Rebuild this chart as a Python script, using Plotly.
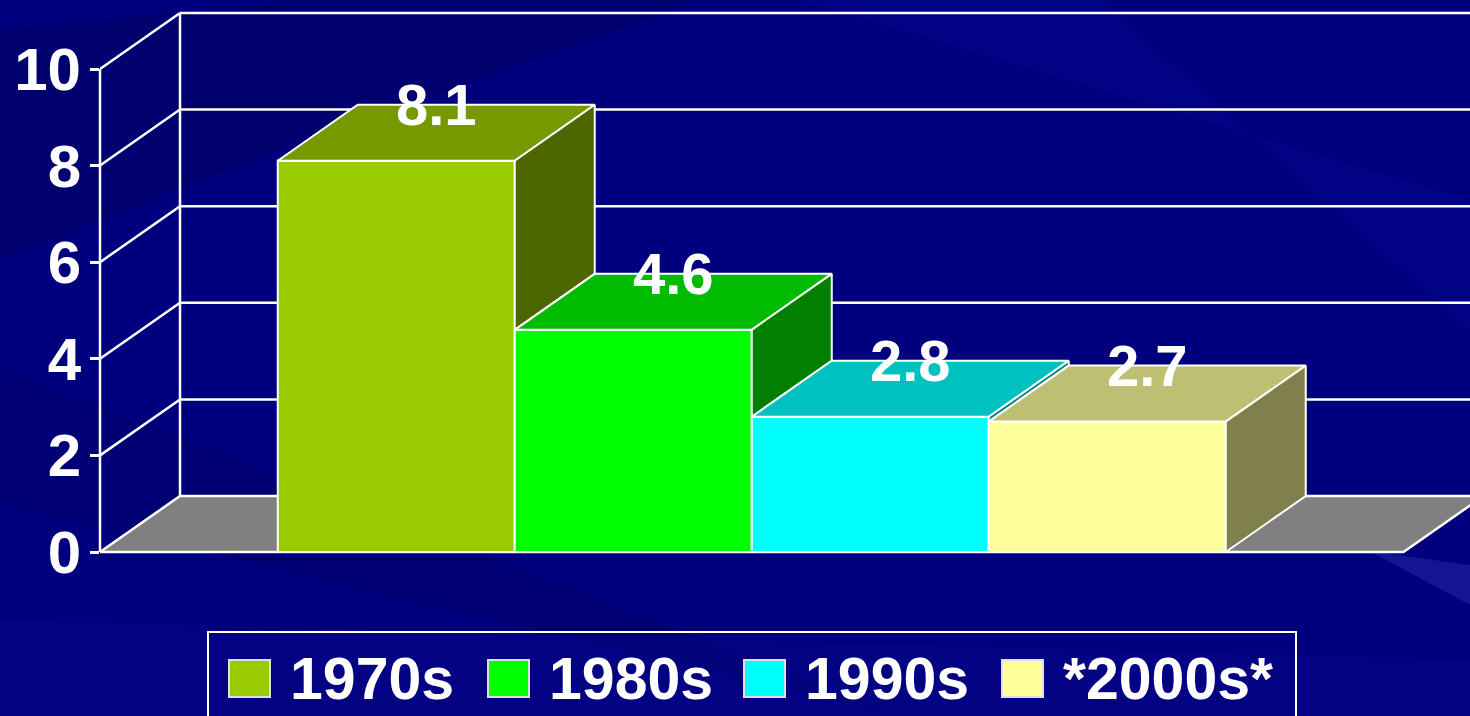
import plotly.graph_objects as go

# ---- data ----
categories = ["1970s", "1980s", "1990s", "*2000s*"]
values = [8.1, 4.6, 2.8, 2.7]
value_labels = ["8.1", "4.6", "2.8", "2.7"]
tick_values = [0, 2, 4, 6, 8, 10]
tick_labels = ["0", "2", "4", "6", "8", "10"]

# ---- styles ----
front_colors = ["#99CC00", "#00FF00", "#00FFFF", "#FFFF99"]
top_colors = ["#779900", "#00BB00", "#00C0C0", "#BFBF73"]
side_colors = ["#4D6600", "#007F00", "#008080", "#80804D"]
BG = "#00007E"
FONT = "Arial, Liberation Sans, sans-serif"

W, H = 1470, 716
L, R, T, B = 100, 0, 0, 156
PW, PH = W - L - R, H - T - B
PX_PER_X = 237.0
PX_PER_Y = 48.3
DX = 80 / PX_PER_X      # depth offset in x units
DY = 56 / PX_PER_Y      # depth offset in y units
X0 = -1.25
X1 = X0 + PW / PX_PER_X
Y0 = -(PH - 552) / PX_PER_Y
Y1 = 552 / PX_PER_Y
FLOOR_R = len(categories) - 0.5 + 0.75
WHITE = "white"
LW = 2.5


def px2x(px):
    return (px - L) / PW


def px2y(py):
    return (H - B - py) / PH


fig = go.Figure()
shapes = []
annotations = []

# background streaks (paper coords)
streaks = [
    ([-100, 300, 700, 200, -100], [40, 0, 0, 180, 300], "rgba(0,0,60,0.22)"),
    ([-100, 600, 900, -100], [330, 600, 716, 480], "rgba(0,0,60,0.12)"),
    ([800, 1470, 1470, 1100], [0, 200, 330, 0], "rgba(20,20,190,0.10)"),
    ([1180, 1470, 1470, 1330], [525, 565, 605, 530], "rgba(90,90,230,0.22)"),
    ([0, 1470, 1470, 0], [620, 660, 716, 716], "rgba(20,20,170,0.12)"),
]
for xs, ys, col in streaks:
    path = "M " + " L ".join(f"{px2x(a)},{px2y(b)}" for a, b in zip(xs, ys)) + " Z"
    shapes.append(dict(type="path", xref="paper", yref="paper", path=path,
                       fillcolor=col, line=dict(width=0), layer="below"))

# floor
floor_path = (f"M {X0},0 L {FLOOR_R},0 L {FLOOR_R + DX},{DY} "
              f"L {X0 + DX},{DY} Z")
shapes.append(dict(type="path", xref="x", yref="y", path=floor_path,
                   fillcolor="#808080", line=dict(color=WHITE, width=LW), layer="below"))

# back wall gridlines and left wall diagonals
for v in tick_values:
    if v > 0:
        shapes.append(dict(type="line", xref="x", yref="y", x0=X0 + DX, x1=X1 + 1,
                           y0=v + DY, y1=v + DY, line=dict(color=WHITE, width=LW), layer="below"))
        shapes.append(dict(type="line", xref="x", yref="y", x0=X0, x1=X0 + DX,
                           y0=v, y1=v + DY, line=dict(color=WHITE, width=LW), layer="below"))
shapes.append(dict(type="line", xref="x", yref="y", x0=X0 + DX, x1=X0 + DX,
                   y0=DY, y1=max(tick_values) + DY, line=dict(color=WHITE, width=LW), layer="below"))
# front value axis line
shapes.append(dict(type="line", xref="paper", yref="y", x0=0, x1=0,
                   y0=0, y1=max(tick_values), line=dict(color=WHITE, width=LW)))

# front faces as bars
xs = list(range(len(categories)))
fig.add_trace(go.Bar(
    x=xs, y=values, width=1.0,
    marker=dict(color=front_colors, line=dict(color=WHITE, width=2)),
    showlegend=False, hoverinfo="skip"))

# top and side faces
for i, (v, tc, sc) in enumerate(zip(values, top_colors, side_colors)):
    a, b = i - 0.5, i + 0.5
    fig.add_trace(go.Scatter(
        x=[a, b, b + DX, a + DX, a], y=[v, v, v + DY, v + DY, v],
        fill="toself", fillcolor=tc, mode="lines",
        line=dict(color=WHITE, width=2), showlegend=False, hoverinfo="skip"))
    low = values[i + 1] if i + 1 < len(values) else 0
    fig.add_trace(go.Scatter(
        x=[b, b, b + DX, b + DX, b], y=[low, v, v + DY, low + DY, low],
        fill="toself", fillcolor=sc, mode="lines",
        line=dict(color=WHITE, width=2), showlegend=False, hoverinfo="skip"))
    annotations.append(dict(x=i + DX / 2, y=v + DY / 2, xref="x", yref="y",
                            text=value_labels[i], showarrow=False, yshift=28,
                            font=dict(family=FONT, size=58, color=WHITE, weight="bold")))

# custom legend
shapes.append(dict(type="rect", xref="paper", yref="paper",
                   x0=px2x(208), x1=px2x(1296), y0=px2y(632), y1=px2y(740),
                   line=dict(color=WHITE, width=2), fillcolor="rgba(0,0,0,0)"))
legend_swatch_px = [229, 488, 744, 1002]
for name, col, sx in zip(categories, front_colors, legend_swatch_px):
    shapes.append(dict(type="rect", xref="paper", yref="paper",
                       x0=px2x(sx), x1=px2x(sx + 41), y0=px2y(660), y1=px2y(697),
                       fillcolor=col, line=dict(color="#E0E0E0", width=2)))
    annotations.append(dict(x=px2x(sx + 59), y=px2y(679), xref="paper", yref="paper",
                            xanchor="left", yanchor="middle", text=name, showarrow=False,
                            font=dict(family=FONT, size=59, color=WHITE, weight="bold")))

fig.update_layout(
    width=W, height=H,
    margin=dict(l=L, r=R, t=T, b=B, pad=0),
    paper_bgcolor=BG, plot_bgcolor="rgba(0,0,0,0)",
    shapes=shapes, annotations=annotations,
    showlegend=False, barmode="overlay",
    xaxis=dict(range=[X0, X1], visible=False, fixedrange=True),
    yaxis=dict(range=[Y0, Y1], tickvals=tick_values, ticktext=tick_labels,
               showgrid=False, zeroline=False, showline=False,
               ticks="outside", ticklen=9, tickwidth=2.5, tickcolor=WHITE,
               ticklabelstandoff=-3,
               tickfont=dict(family=FONT, size=60, color=WHITE, weight="bold"),
               fixedrange=True),
)

fig.write_html("out.html", config={"displayModeBar": False},
               post_script="document.body.style.margin='0';document.body.style.overflow='hidden';")
